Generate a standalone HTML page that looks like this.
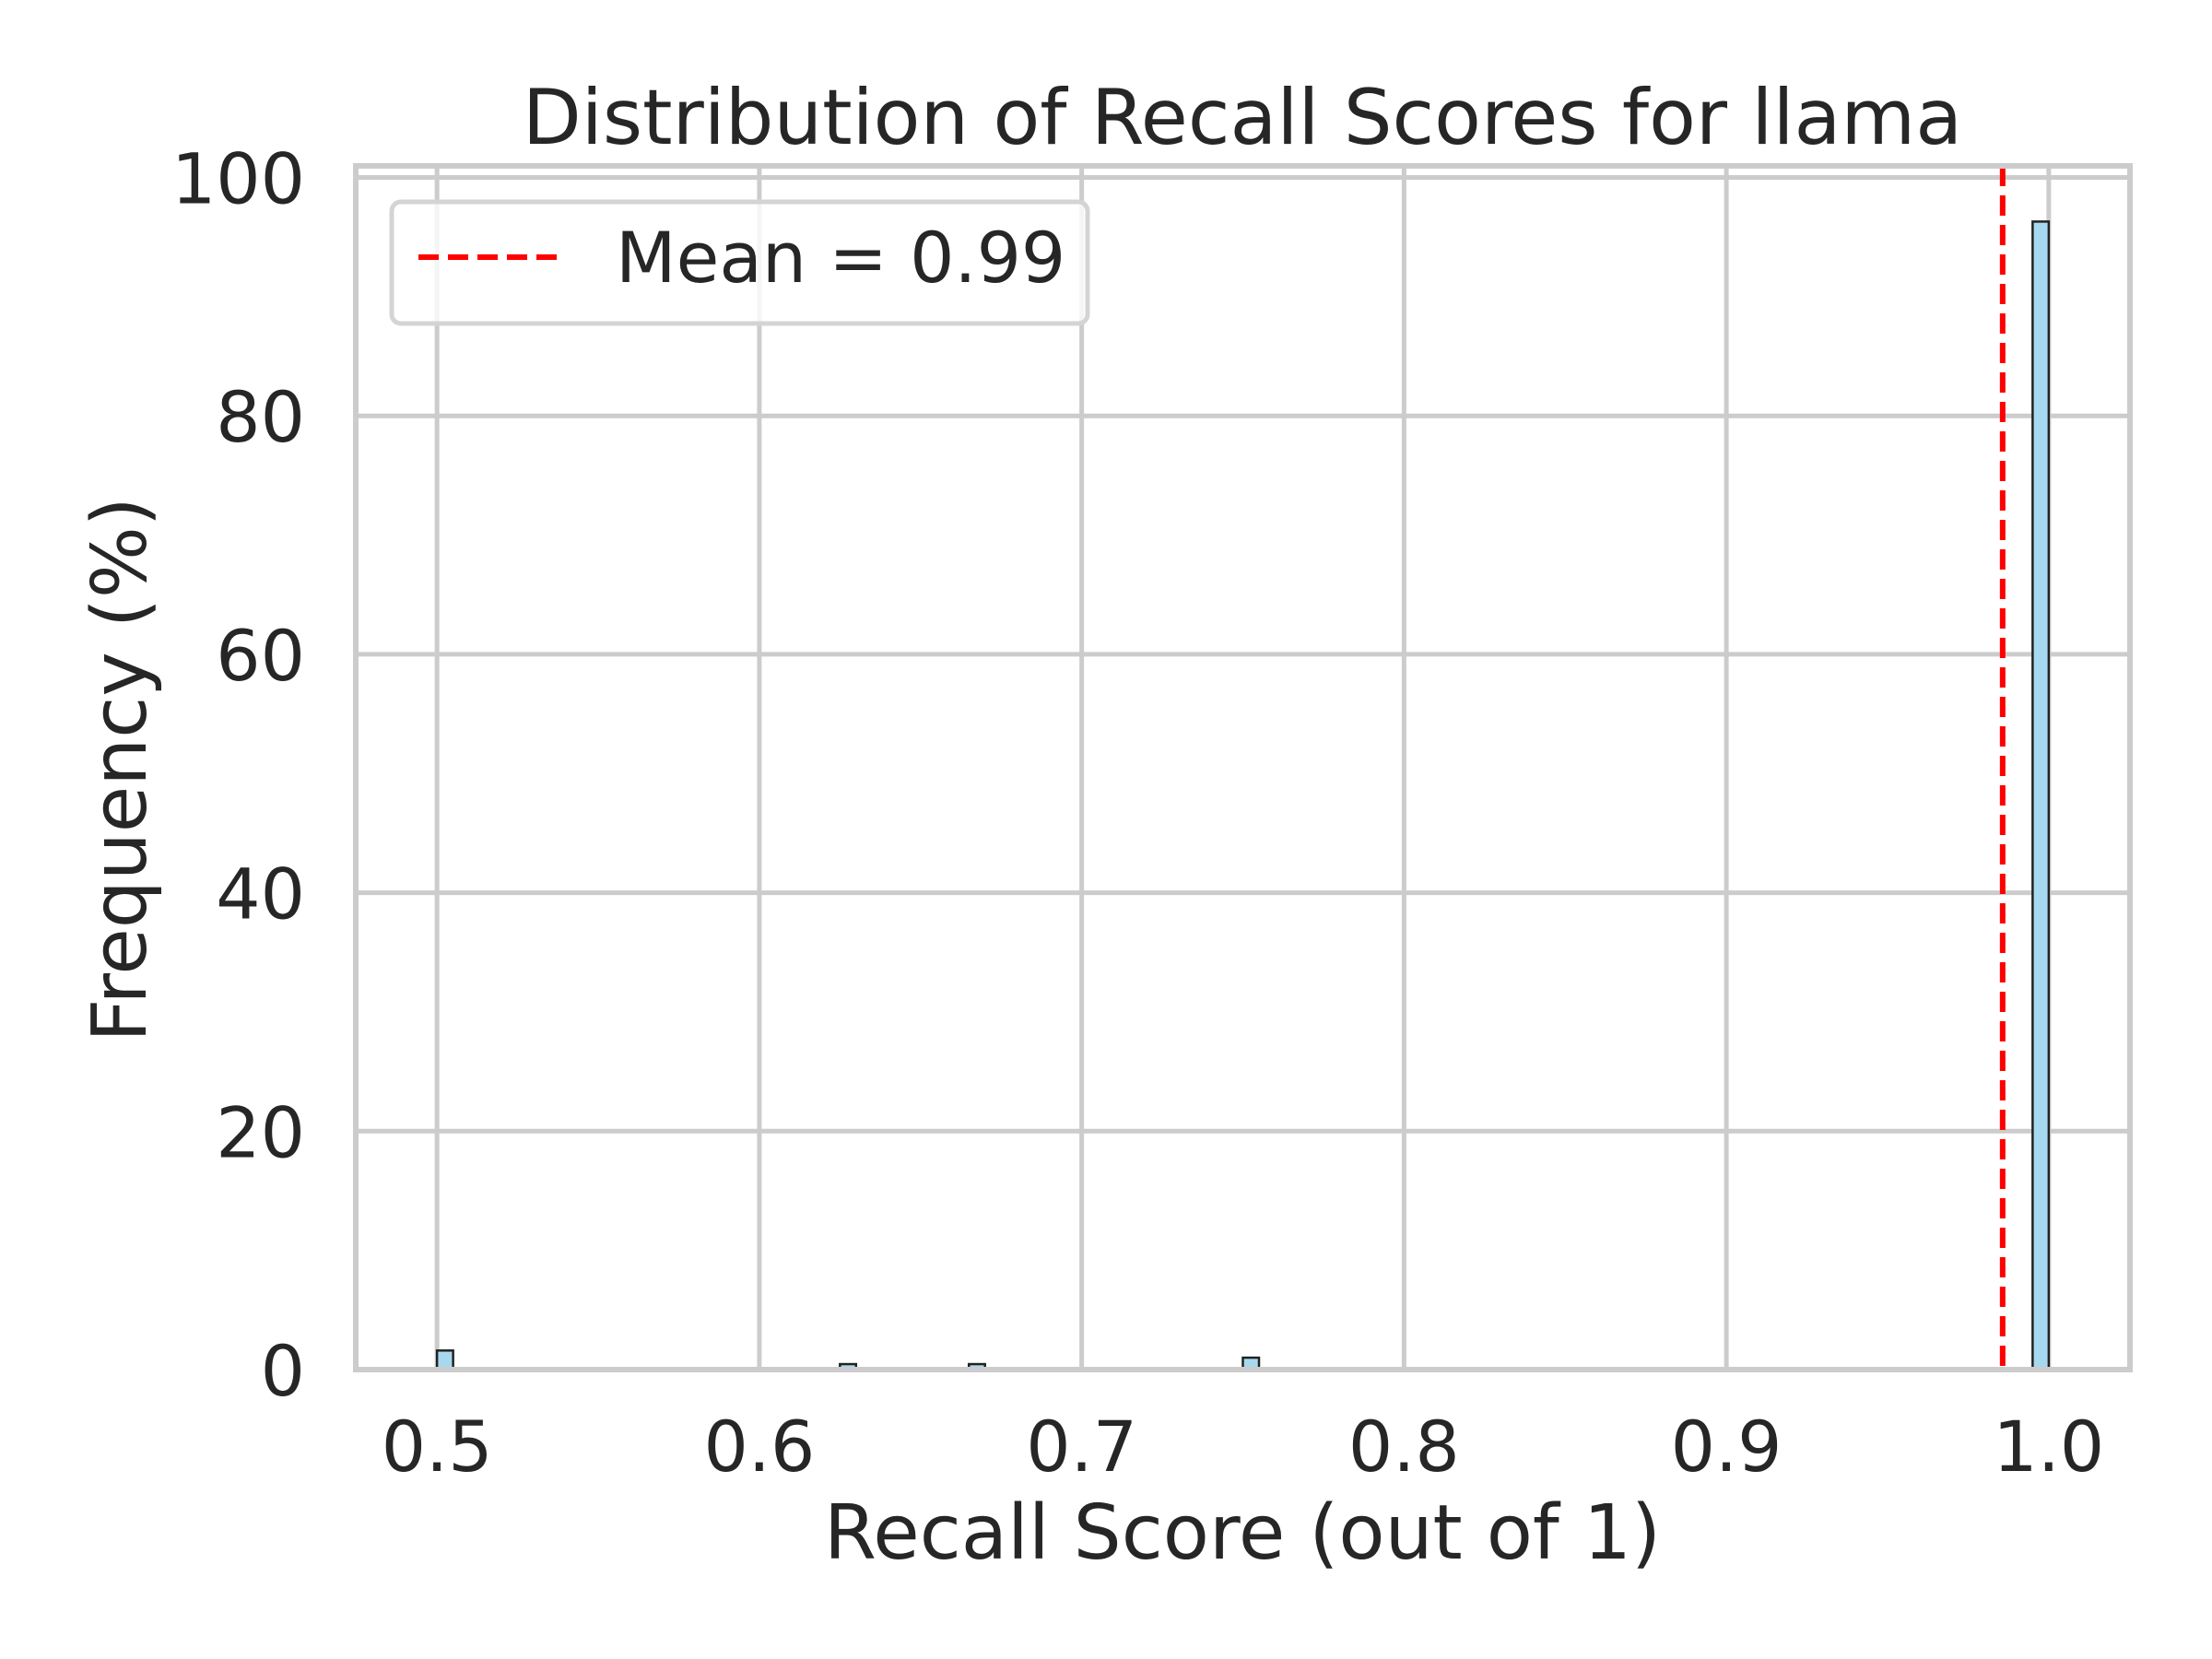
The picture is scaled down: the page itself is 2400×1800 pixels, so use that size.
<!DOCTYPE html>
<html><head><meta charset="utf-8"><style>
html,body{margin:0;padding:0;background:#fff;}
svg{display:block;font-family:"DejaVu Sans","Liberation Sans",sans-serif;}
</style></head><body>
<svg id="chart" width="2400" height="1800" viewBox="0 0 2400 1800" xmlns="http://www.w3.org/2000/svg">
<rect x="0" y="0" width="2400" height="1800" fill="#fff"/>
<g id="grid"></g>
<g id="bars"></g>
<g id="meanline"></g>
<g id="spines"></g>
<g id="ticks"></g>
<text x="1348" y="156" font-size="83" fill="#262626" text-anchor="middle">Distribution of Recall Scores for llama</text>
<text x="1348" y="1691" font-size="82" fill="#262626" text-anchor="middle">Recall Score (out of 1)</text>
<text transform="translate(158,835) rotate(-90)" font-size="82" fill="#262626" text-anchor="middle">Frequency (%)</text>
<g id="legend">
<rect x="425" y="219" width="755" height="132" rx="10" fill="#fff" fill-opacity="0.8" stroke="#d4d4d4" stroke-width="5"/>
<line x1="454" y1="279" x2="607" y2="279" stroke="#ff0000" stroke-width="6" stroke-dasharray="22,10"/>
<text x="668" y="306" font-size="76" fill="#262626">Mean = 0.99</text>
</g>
</svg>
<script>
const binStarts = [0.5, 0.625, 0.665, 0.75, 0.995];
const binFreq = [1.6, 0.46, 0.46, 1.0, 96.3];
const binWidth = 0.005;
const meanValue = 0.9857;
const xTicks = [0.5, 0.6, 0.7, 0.8, 0.9, 1.0];
const xTickLabels = ["0.5", "0.6", "0.7", "0.8", "0.9", "1.0"];
const yTicks = [0, 20, 40, 60, 80, 100];
const yTickLabels = ["0", "20", "40", "60", "80", "100"];

const L = 386, R = 2311, T = 180, B = 1486;
const xMin = 0.4748, xMax = 1.0252, yMin = 0, yMax = 100.97;
const xs = v => L + (v - xMin) / (xMax - xMin) * (R - L);
const ys = v => B - (v - yMin) / (yMax - yMin) * (B - T);
const NS = "http://www.w3.org/2000/svg";
function mk(tag, attrs, parent) {
  const e = document.createElementNS(NS, tag);
  for (const k in attrs) e.setAttribute(k, attrs[k]);
  parent.appendChild(e);
  return e;
}
const grid = document.getElementById('grid');
const bars = document.getElementById('bars');
const ticks = document.getElementById('ticks');
const spines = document.getElementById('spines');
const ml = document.getElementById('meanline');

xTicks.forEach((t, i) => {
  const g = mk('line', {x1: xs(t), x2: xs(t), y1: T, y2: B, stroke: '#cccccc', 'stroke-width': 5}, grid);
  
  
  const tx = mk('text', {x: xs(t), y: 1596, 'font-size': 76, fill: '#262626', 'text-anchor': 'middle'}, ticks);
  tx.textContent = xTickLabels[i];
  
  
});
yTicks.forEach((t, i) => {
  const g = mk('line', {x1: L, x2: R, y1: ys(t), y2: ys(t), stroke: '#cccccc', 'stroke-width': 5}, grid);
  
  
  const tx = mk('text', {x: 331, y: ys(t) + 28, 'font-size': 76, fill: '#262626', 'text-anchor': 'end'}, ticks);
  tx.textContent = yTickLabels[i];
  
  
});
binStarts.forEach((s, i) => {
  const x0 = xs(s), x1 = xs(s + binWidth), y0 = ys(binFreq[i]);
  const r = mk('rect', {x: x0, y: y0, width: x1 - x0, height: ys(0) - y0, fill: '#a6d9ef', stroke: '#222', 'stroke-width': 2.5}, bars);
  
  
});
const m = mk('line', {x1: xs(meanValue), x2: xs(meanValue), y1: T, y2: B, stroke: '#ff0000', 'stroke-width': 6, 'stroke-dasharray': '22,10'}, ml);


const sp = mk('rect', {x: L, y: T, width: R - L, height: B - T, fill: 'none', stroke: '#cccccc', 'stroke-width': 6}, spines);


</script>
</body></html>
